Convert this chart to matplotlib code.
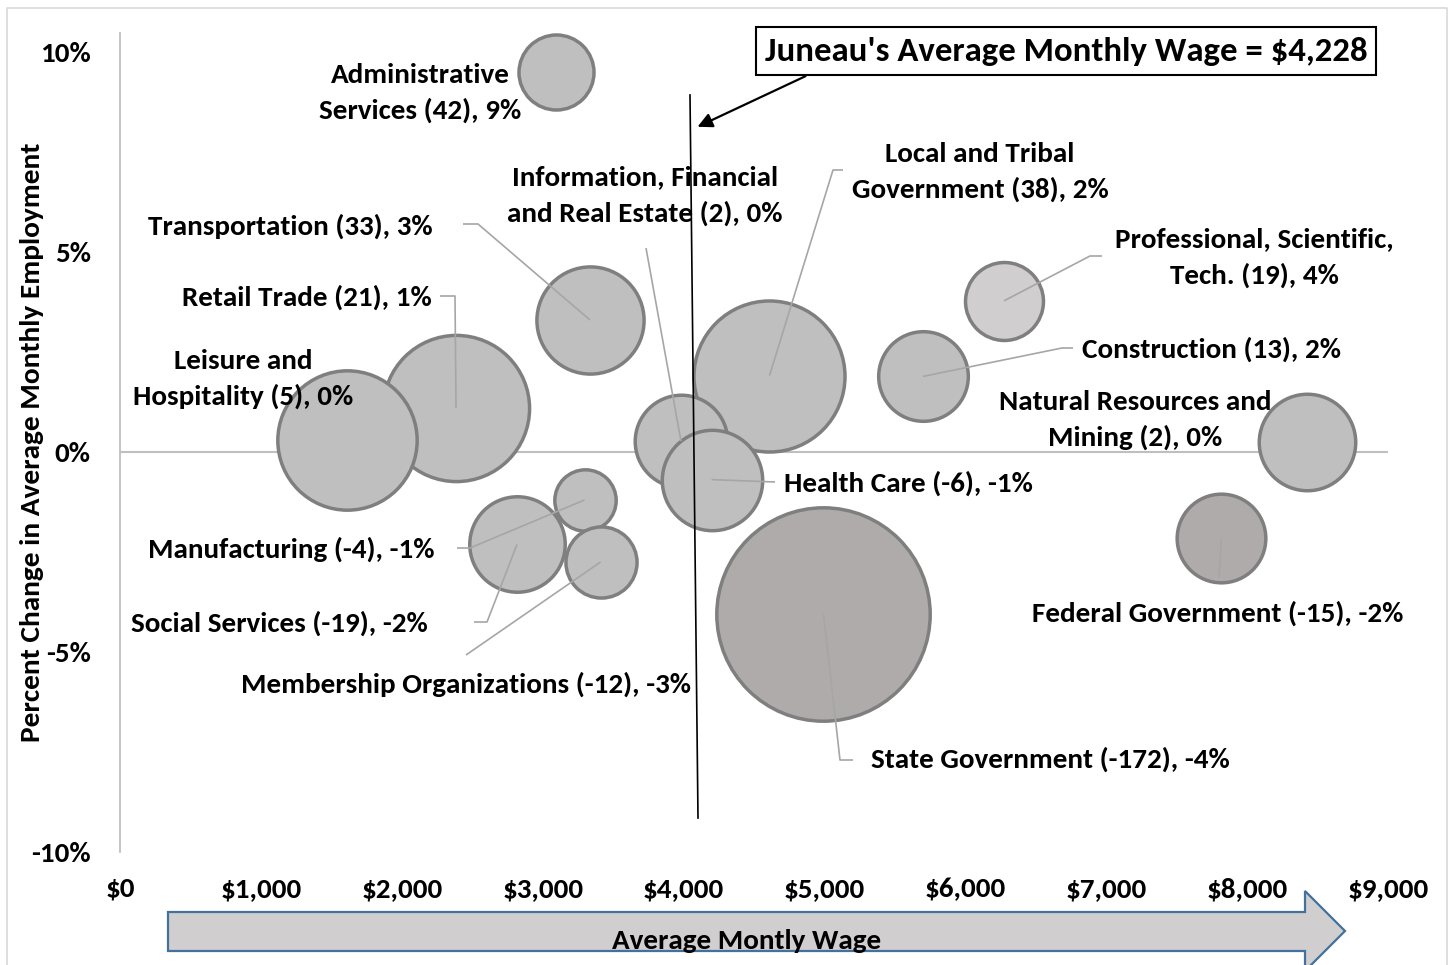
import matplotlib
matplotlib.use('Agg')
import matplotlib.pyplot as plt
from matplotlib import font_manager
from matplotlib.patches import Rectangle, Polygon, FancyArrowPatch
from matplotlib.lines import Line2D

# ---------------- data ----------------
industries = [
    "Administrative\nServices", "Transportation", "Retail Trade", "Leisure and\nHospitality",
    "Information, Financial\nand Real Estate", "Health Care", "Local and Tribal\nGovernment",
    "Construction", "Professional, Scientific,\nTech.", "Natural Resources and\nMining",
    "Federal Government", "State Government", "Manufacturing", "Social Services",
    "Membership Organizations",
]
avg_wage = [3098, 3336, 2385, 1611, 3982, 4199, 4610, 5700, 6275, 8422, 7818, 4993, 3297, 2818, 3411]
pct_change = [9.49, 3.30, 1.10, 0.29, 0.27, -0.69, 1.91, 1.89, 3.78, 0.24, -2.14, -4.04, -1.20, -2.31, -2.75]
job_change = [42, 33, 21, 5, 2, -6, 38, 13, 19, 2, -15, -172, -4, -19, -12]
employment = [463, 945, 1758, 1598, 705, 829, 1877, 661, 500, 766, 647, 3747, 310, 750, 416]
x_ticks = [0, 1000, 2000, 3000, 4000, 5000, 6000, 7000, 8000, 9000]
y_ticks = [-10, -5, 0, 5, 10]
juneau_avg_wage = 4228

# ---------------- styling ----------------
names = {f.name for f in font_manager.fontManager.ttflist}
FONT = 'Carlito' if 'Carlito' in names else 'Lato'
plt.rcParams['font.family'] = [FONT, 'DejaVu Sans']
plt.rcParams['font.weight'] = 'bold'

FS = 21

W, H = 1453, 965
fig = plt.figure(figsize=(W / 100, H / 100), dpi=100)

def fx(px):
    return px / W

def fy(py):
    return 1 - py / H

X0, X1 = 120, 1388      # pixel of $0 and $9,000
Y0, PPU = 452, 40       # pixel of 0%, pixels per 1%
YTOP = 852 - 20.475 * PPU

ax = fig.add_axes([fx(X0), fy(852), (X1 - X0) / W, (852 - YTOP) / H])
ax.set_xlim(0, 9000)
ax.set_ylim(-10, 10.475)

def pdx(px):
    return (px - X0) / (X1 - X0) * 9000

def pdy(py):
    return (Y0 - py) / PPU

# chart border
fig.add_artist(Line2D([fx(7), fx(7), fx(1447), fx(1447)], [fy(975), fy(8), fy(8), fy(975)],
                      color='#D9D9D9', lw=1.2))

for s in ['top', 'right', 'bottom']:
    ax.spines[s].set_visible(False)
ax.spines['left'].set_color('#BFBFBF')
ax.spines['left'].set_linewidth(1.3)
ax.axhline(0, color='#BFBFBF', lw=1.5, zorder=1)

ax.set_xticks(x_ticks)
ax.set_xticklabels([f"${v:,.0f}" for v in x_ticks])
ax.set_yticks(y_ticks)
ax.set_yticklabels([f"{v:.0f}%" for v in y_ticks])
ax.tick_params(axis='x', length=0, pad=18, labelsize=FS)
ax.tick_params(axis='y', length=0, pad=21, labelsize=FS)
for t in ax.get_xticklabels() + ax.get_yticklabels():
    t.set_fontweight('bold')

fig.text(fx(32), fy(442), "Percent Change in Average Monthly Employment", rotation=90,
         ha='center', va='center', fontsize=21.2, fontweight='bold')

# bubbles
fills = ['#BFBFBF'] * len(industries)
fills[industries.index("Federal Government")] = '#AFABAB'
fills[industries.index("State Government")] = '#AFABAB'
fills[industries.index("Professional, Scientific,\nTech.")] = '#D0CECE'
SIZE_SCALE = 6.3
order = [11, 6, 2, 3, 1, 0, 4, 5, 7, 8, 9, 10, 13, 12, 14]
for z, i in enumerate(order):
    ax.scatter(avg_wage[i], pct_change[i], s=employment[i] * SIZE_SCALE, color=fills[i],
               edgecolor='#7F7F7F', linewidth=2.5, zorder=3 + z * 0.01)

# leader lines (pixel elbows -> bubble centre)
leaders = {
    1: [(463, 224), (478, 224)],
    2: [(440, 296), (455, 296)],
    4: [(646, 248)],
    6: [(843, 170), (833, 170)],
    8: [(1102, 256), (1090, 256)],
    7: [(1073, 348), (1062, 348)],
    5: [(775, 482)],
    10: [(1219, 578)],
    11: [(853, 760), (840, 760)],
    12: [(457, 548), (470, 548)],
    13: [(474, 622), (487, 622)],
    14: [(466, 655)],
}
for i, pts in leaders.items():
    xs = [pdx(p[0]) for p in pts] + [avg_wage[i]]
    ys = [pdy(p[1]) for p in pts] + [pct_change[i]]
    ax.plot(xs, ys, color='#A6A6A6', lw=1.2, zorder=4, solid_capstyle='butt')

# labels: (pixel x, pixel y, ha)
label_pos = [
    (420, 93, 'center'), (433, 226, 'right'), (432, 297, 'right'), (243, 379, 'center'),
    (645, 196, 'center'), (784, 483, 'left'), (980, 172, 'center'), (1082, 349, 'left'),
    (1254, 258, 'center'), (1135, 420, 'center'), (1218, 613, 'center'), (871, 759, 'left'),
    (434, 549, 'right'), (428, 623, 'right'), (466, 684, 'center'),
]
for i, name in enumerate(industries):
    px, py, ha = label_pos[i]
    txt = f"{name} ({job_change[i]}), {int(round(pct_change[i]))}%"
    ax.text(pdx(px), pdy(py), txt, ha=ha, va='center', multialignment='center',
            fontsize=FS, fontweight='bold', linespacing=1.55, zorder=6)

# average wage marker line (hand-drawn shape)
fig.add_artist(Line2D([fx(690), fx(698)], [fy(95), fy(818)], color='black', lw=1.2, zorder=7))

# callout box
fig.add_artist(Rectangle((fx(756), fy(75)), fx(1376) - fx(756), fy(27) - fy(75),
                         facecolor='white', edgecolor='black', lw=1.5, zorder=8))
fig.text(fx(1066), fy(51), f"Juneau's Average Monthly Wage = ${juneau_avg_wage:,}",
         ha='center', va='center', fontsize=25, fontweight='bold', zorder=9)
fig.add_artist(FancyArrowPatch((fx(808), fy(75)), (fx(695), fy(128)), transform=fig.transFigure,
                               arrowstyle='-|>', mutation_scale=22, lw=1.6, color='black', zorder=8))

# block arrow for x-axis title
arrow_pts = [(168, 912), (1305, 912), (1305, 891), (1345, 931), (1305, 971), (1305, 951), (168, 951)]
poly = Polygon([(fx(a), fy(b)) for a, b in arrow_pts], closed=True, transform=fig.transFigure,
               facecolor='#D0CECE', edgecolor='#41719C', lw=1.6, zorder=5)
fig.add_artist(poly)
t = fig.text(fx(747), fy(949), "Average Montly Wage", ha='center', va='baseline',
             fontsize=FS, fontweight='bold', zorder=6)
t.set_clip_path(poly)

fig.savefig('out.png', dpi=100)
